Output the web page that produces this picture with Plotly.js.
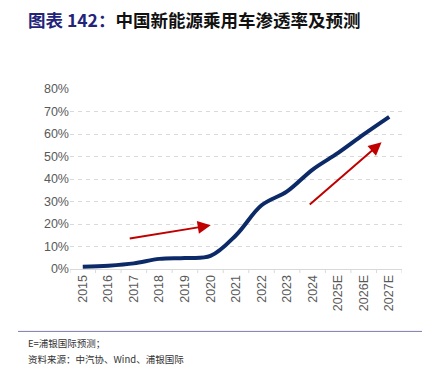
<!DOCTYPE html>
<html>
<head>
<meta charset="utf-8">
<script src="https://cdn.plot.ly/plotly-3.0.1.min.js"></script>
<style>html,body{margin:0;padding:0;background:#fff;}#chart{width:430px;height:373px;}</style>
</head>
<body>
<div id="chart"></div>
<script>
const years = ["2015","2016","2017","2018","2019","2020","2021","2022","2023","2024","2025E","2026E","2027E"];
const penetration = [1.0, 1.5, 2.5, 4.5, 4.9, 5.8, 15.0, 28.3, 34.5, 44.2, 51.6, 59.8, 67.6];
const yTickVals = [0,10,20,30,40,50,60,70,80];
const yTickText = ["0%","10%","20%","30%","40%","50%","60%","70%","80%"];
const titleLead = "图表 142：";
const titleMain = "中国新能源乘用车渗透率及预测";
const note1 = "E=浦银国际预测；";
const note2 = "资料来源：中汽协、Wind、浦银国际";
// arrow endpoints [tail, head] in axis units (category index, %)
const arrow1 = {from:[1.78,13.5], to:[5.01,19.4]};
const arrow2 = {from:[8.83,28.1], to:[11.70,56.3]};

const xIdx = years.map((_, i) => i);

const trace = {
  x: xIdx, y: penetration, type: 'scatter', mode: 'lines',
  line: {color: '#0c2a68', width: 4, shape: 'spline', smoothing: 1},
  hoverinfo: 'skip'
};

const cjk = '"Noto Sans CJK SC", "Noto Sans", sans-serif';
const tickFont = {family: '"Liberation Sans", Arial, sans-serif', size: 12.5, color: '#595959'};

function arrowAnn(a) {
  return {x: a.to[0], y: a.to[1], ax: a.from[0], ay: a.from[1],
    xref: 'x', yref: 'y', axref: 'x', ayref: 'y', text: '', showarrow: true,
    arrowhead: 2, arrowsize: 1.3, arrowwidth: 2, arrowcolor: '#c00000'};
}

const layout = {
  width: 430, height: 373,
  margin: {l: 70, r: 28, t: 89, b: 104},
  paper_bgcolor: '#fff', plot_bgcolor: '#fff',
  showlegend: false,
  title: {
    text: '<span style="color:#23237a">' + titleLead + '</span>' + titleMain,
    font: {family: cjk, size: 17.5, color: '#111', weight: 'bold'},
    x: 28/430, xref: 'container', xanchor: 'left',
    y: 1 - 21/373, yref: 'container', yanchor: 'middle'
  },
  xaxis: {
    tickmode: 'array', tickvals: xIdx, ticktext: years,
    range: [-0.5, years.length - 0.5],
    tickangle: -90, tickfont: tickFont,
    showgrid: false, zeroline: false,
    showline: true, linecolor: '#d9d9d9', linewidth: 1,
    ticks: '', fixedrange: true
  },
  yaxis: {
    range: [0, 80], tickmode: 'array', tickvals: yTickVals, ticktext: yTickText,
    tickfont: tickFont, ticks: '', ticklen: 0,
    showgrid: true, gridcolor: '#d9d9d9', griddash: '4px,4px', gridwidth: 1,
    zeroline: false, showline: false, fixedrange: true
  },
  shapes: [
    {type: 'line', xref: 'paper', yref: 'paper', x0: (18-70)/332, x1: (422-70)/332,
     y0: (269.3-331.7)/180, y1: (269.3-331.7)/180, line: {color: '#7b7ba8', width: 1}}
  ].concat(xIdx.concat([years.length]).map(i => ({
    type: 'line', xref: 'x', yref: 'paper', x0: i - 0.5, x1: i - 0.5,
    y0: 0, y1: -4/180, line: {color: '#d9d9d9', width: 1}
  }))),
  annotations: [
    arrowAnn(arrow1), arrowAnn(arrow2),
    {text: note1, xref: 'paper', yref: 'paper', x: (26-70)/332, y: (269.3-343)/180,
     xanchor: 'left', yanchor: 'middle', showarrow: false,
     font: {family: cjk, size: 9.5, color: '#333'}},
    {text: note2, xref: 'paper', yref: 'paper', x: (26-70)/332, y: (269.3-359)/180,
     xanchor: 'left', yanchor: 'middle', showarrow: false,
     font: {family: cjk, size: 9.5, color: '#333'}}
  ]
};

Plotly.newPlot('chart', [trace], layout, {displayModeBar: false, staticPlot: true});
</script>
</body>
</html>
